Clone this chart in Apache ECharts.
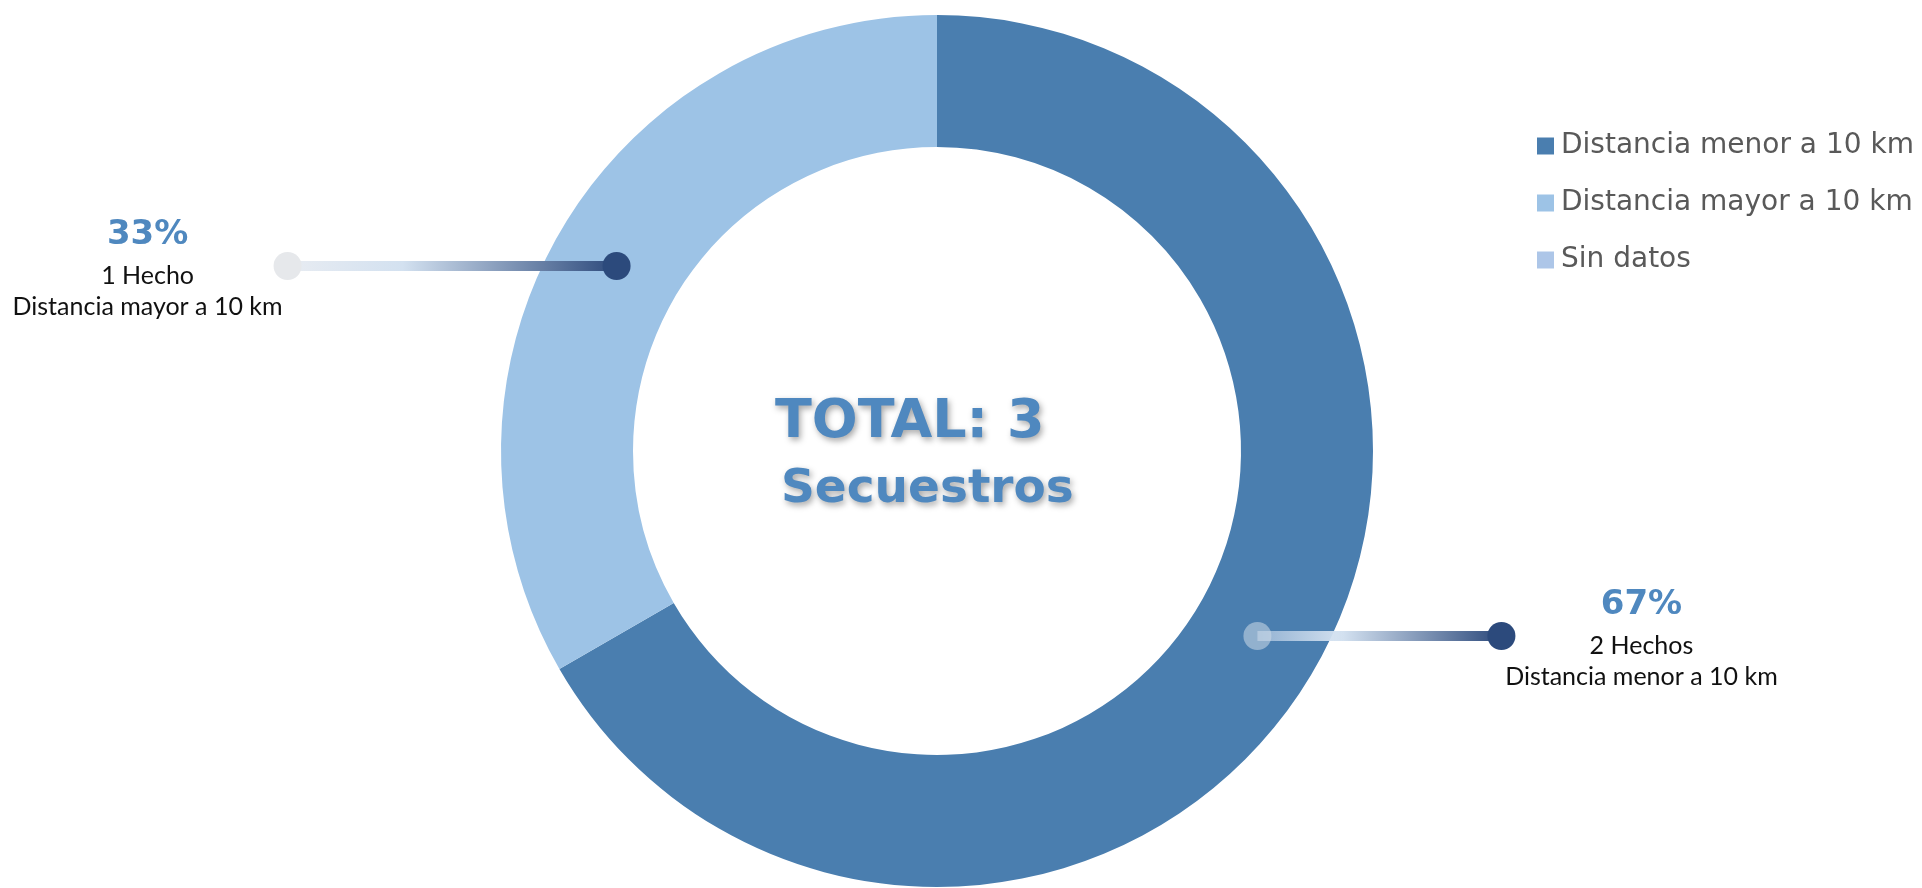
<!DOCTYPE html>
<html>
<head>
<meta charset="utf-8">
<script src="https://cdn.jsdelivr.net/npm/echarts@6/dist/echarts.min.js"></script>
<style>
  html, body { margin: 0; padding: 0; background: #fff; }
  #main { width: 1922px; height: 888px; }
</style>
</head>
<body>
<div id="main"></div>
<script>
  // datos
  var categorias = ['Distancia menor a 10 km', 'Distancia mayor a 10 km', 'Sin datos'];
  var hechos = [2, 1, 0];
  var colores = ['#4a7eaf', '#9dc3e6', '#adc6e8'];
  var totalTexto = ['TOTAL: 3', 'Secuestros'];

  var chart = echarts.init(document.getElementById('main'));

  var cx = 937, cy = 451, rIn = 304, rOut = 436;
  // largo de las lineas de las etiquetas (por categoria)
  var largoLinea = [244, 329, 0];

  var total = hechos.reduce(function (a, b) { return a + b; }, 0);
  var graficos = [];
  var acc = 0;
  hechos.forEach(function (v, i) {
    var inicio = 90 - acc / total * 360;
    var medio = (inicio - v / total * 180) * Math.PI / 180;
    acc += v;
    if (!v) return;
    var rm = (rIn + rOut) / 2;
    var ax = cx + rm * Math.cos(medio);
    var ay = cy - rm * Math.sin(medio);
    var dir = Math.cos(medio) >= 0 ? 1 : -1;
    var bx = ax + dir * largoLinea[i];
    var x1 = Math.min(ax, bx), x2 = Math.max(ax, bx);
    var claroEnAnillo = dir > 0;
    graficos.push({
      type: 'line', z: 100,
      shape: { x1: x1, y1: ay, x2: x2, y2: ay },
      style: {
        lineWidth: 10,
        stroke: new echarts.graphic.LinearGradient(x1, ay, x2, ay, [
          { offset: 0, color: claroEnAnillo ? 'rgba(205,220,238,0.55)' : '#e8ecf2' },
          { offset: 0.35, color: '#d3e1f0' },
          { offset: 1, color: '#2d4a7c' }
        ], true)
      }
    });
    graficos.push({
      type: 'circle', z: 101,
      shape: { cx: x1, cy: ay, r: 14 },
      style: { fill: claroEnAnillo ? 'rgba(205,218,232,0.55)' : '#e6e8eb' }
    });
    graficos.push({
      type: 'circle', z: 101,
      shape: { cx: x2, cy: ay, r: 14 },
      style: { fill: '#2c4a7c' }
    });
    var tx = bx + dir * 140;
    graficos.push({
      type: 'text', z: 102, x: tx, y: ay - 31,
      style: {
        text: Math.round(v / total * 100) + '%',
        fontFamily: 'DejaVu Sans', fontWeight: 'bold', fontSize: 34,
        fill: '#4f88bf', align: 'center', verticalAlign: 'middle'
      }
    });
    graficos.push({
      type: 'text', z: 102, x: tx, y: ay + 10,
      style: {
        text: v + (v === 1 ? ' Hecho' : ' Hechos'),
        fontFamily: 'Lato', fontSize: 25,
        fill: '#111', align: 'center', verticalAlign: 'middle'
      }
    });
    graficos.push({
      type: 'text', z: 102, x: tx, y: ay + 41,
      style: {
        text: categorias[i],
        fontFamily: 'Lato', fontSize: 25,
        fill: '#111', align: 'center', verticalAlign: 'middle'
      }
    });
  });

  // texto central
  var sombra = {
    fontFamily: 'DejaVu Sans', fontWeight: 'bold', fill: '#4f88bf',
    textShadowColor: 'rgba(0,0,0,0.35)', textShadowBlur: 6,
    textShadowOffsetX: 2, textShadowOffsetY: 3,
    align: 'left', verticalAlign: 'middle'
  };
  graficos.push({
    type: 'text', z: 102, x: 775, y: 423,
    style: Object.assign({ text: totalTexto[0], fontSize: 54 }, sombra)
  });
  graficos.push({
    type: 'text', z: 102, x: 781, y: 490,
    style: Object.assign({ text: totalTexto[1], fontSize: 47 }, sombra)
  });

  chart.setOption({
    animation: false,
    color: colores,
    legend: {
      orient: 'vertical',
      left: 1532,
      top: 127,
      itemWidth: 17,
      itemHeight: 17,
      itemGap: 29,
      icon: 'rect',
      data: categorias,
      textStyle: {
        fontFamily: 'DejaVu Sans',
        fontSize: 28,
        lineHeight: 28,
        color: '#595959',
        padding: [0, 0, 0, 2]
      }
    },
    series: [
      {
        type: 'pie',
        center: [cx, cy],
        radius: [rIn, rOut],
        startAngle: 90,
        clockwise: true,
        label: { show: false },
        labelLine: { show: false },
        emphasis: { disabled: true },
        itemStyle: { borderWidth: 0 },
        data: categorias.map(function (c, i) {
          return { name: c, value: hechos[i] };
        })
      }
    ],
    graphic: graficos
  });
</script>
</body>
</html>
